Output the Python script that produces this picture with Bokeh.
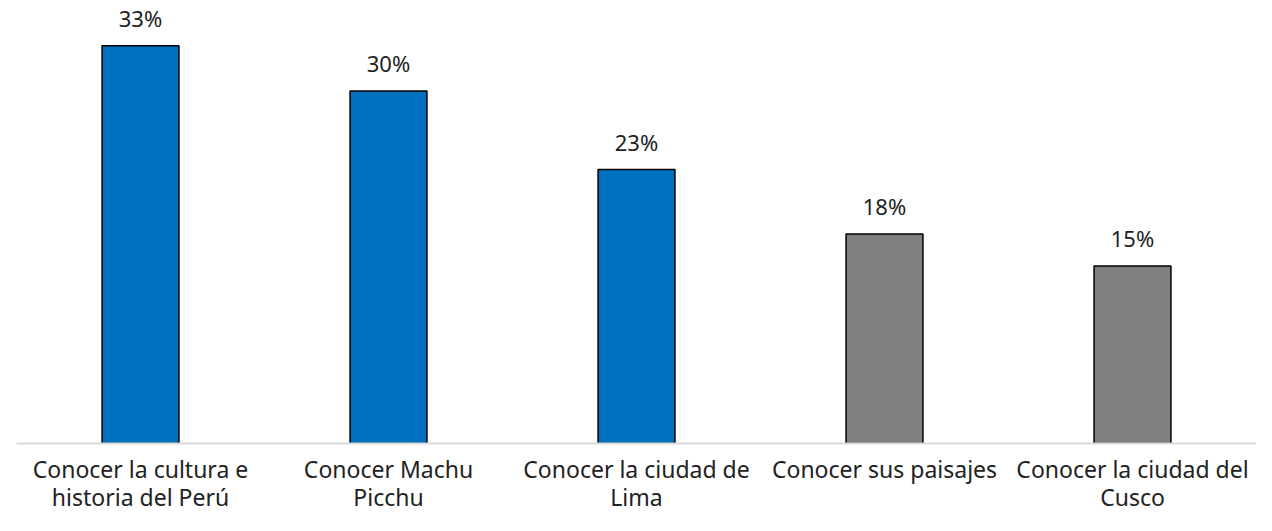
from bokeh.plotting import figure
from bokeh.models import ColumnDataSource, FactorRange
from bokeh.embed import file_html
from bokeh.resources import INLINE
from bokeh.core.properties import value

categories = [
    "Conocer la cultura e\nhistoria del Perú",
    "Conocer Machu\nPicchu",
    "Conocer la ciudad de\nLima",
    "Conocer sus paisajes",
    "Conocer la ciudad del\nCusco",
]
values = [33.4, 29.6, 23.0, 17.6, 14.9]
labels = ["33%", "30%", "23%", "18%", "15%"]
colors = ["#0070C0", "#0070C0", "#0070C0", "#7F7F7F", "#7F7F7F"]

FONT = "Noto Sans"

src = ColumnDataSource(dict(cat=categories, val=values, lab=labels, col=colors))

p = figure(
    x_range=FactorRange(*categories, range_padding=0),
    y_range=(0, 37.2),
    width=1256, height=515,
    output_backend="svg", toolbar_location=None,
    min_border_left=16, min_border_right=0, min_border_top=0, min_border_bottom=0,
)
p.outline_line_color = None
p.xgrid.visible = False
p.ygrid.visible = False
p.yaxis.visible = False

p.vbar(x="cat", top="val", width=0.31, source=src, fill_color="col",
       line_color="#000000", line_width=1.5)

p.text(x="cat", y="val", text="lab", source=src, text_align="center",
       text_baseline="bottom", y_offset=-13, text_font=value(FONT),
       text_font_size="22px", text_color="#222222")

ax = p.xaxis[0]
ax.axis_line_color = "#D9D9D9"
ax.axis_line_width = 2
ax.major_tick_line_color = None
ax.minor_tick_line_color = None
ax.major_label_standoff = 3
ax.major_label_text_font = FONT
ax.major_label_text_font_size = "23px"
ax.major_label_text_color = "#222222"
ax.major_label_text_line_height = 0.88

open("out.html", "w").write(file_html(p, INLINE))
